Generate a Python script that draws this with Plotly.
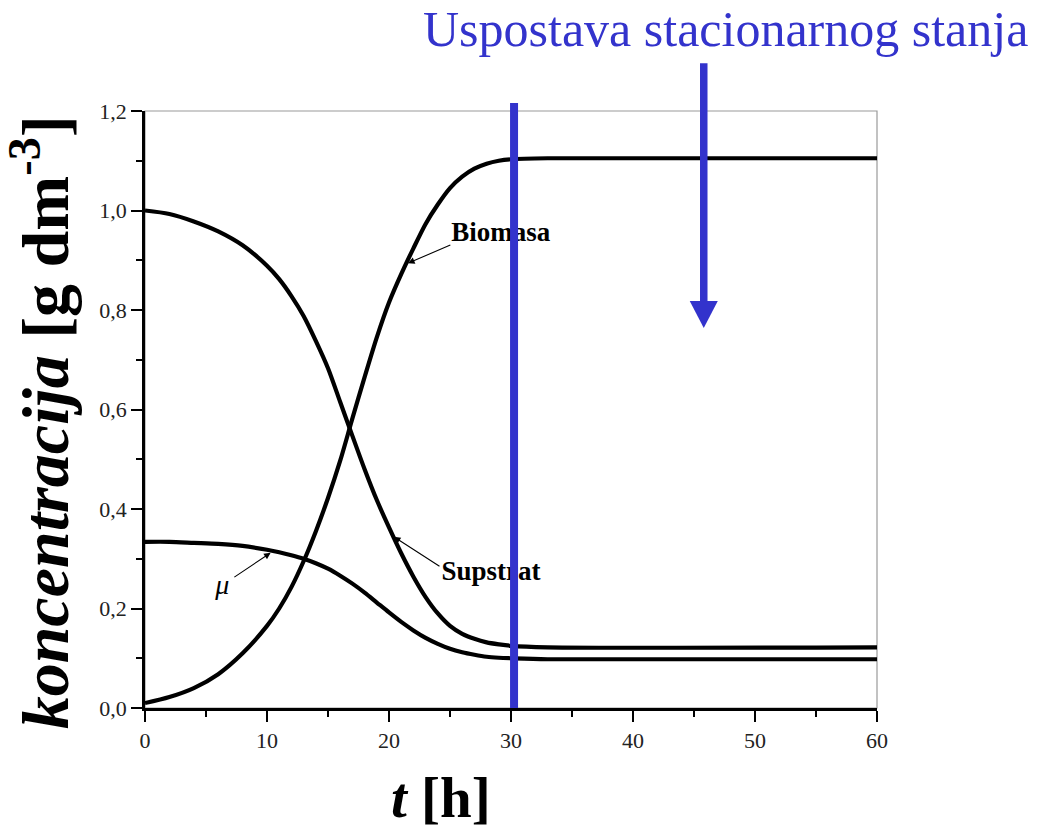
import plotly.graph_objects as go

# Time axis [h] and the three simulated profiles
t = [0, 2, 4, 6, 8, 10, 11, 12, 13, 14, 15, 16, 17, 18, 19, 20, 21, 22, 23, 24,
     25, 26, 27, 28, 29, 30, 33, 60]
biomasa = [0.010, 0.022, 0.040, 0.068, 0.110, 0.165, 0.200, 0.243, 0.295, 0.355,
           0.422, 0.497, 0.582, 0.665, 0.745, 0.815, 0.872, 0.924, 0.973, 1.012,
           1.045, 1.068, 1.084, 1.094, 1.100, 1.103, 1.105, 1.105]
supstrat = [1.000, 0.993, 0.978, 0.958, 0.930, 0.889, 0.862, 0.828, 0.788, 0.738,
            0.683, 0.615, 0.547, 0.480, 0.418, 0.363, 0.311, 0.264, 0.223, 0.190,
            0.165, 0.149, 0.139, 0.132, 0.128, 0.125, 0.122, 0.122]
mi = [0.334, 0.334, 0.332, 0.330, 0.326, 0.318, 0.313, 0.307, 0.300, 0.291,
      0.280, 0.266, 0.250, 0.232, 0.212, 0.192, 0.173, 0.156, 0.141, 0.129,
      0.119, 0.112, 0.107, 0.103, 0.101, 0.100, 0.098, 0.098]

x_ticks = [0, 10, 20, 30, 40, 50, 60]
y_ticks = [0.0, 0.2, 0.4, 0.6, 0.8, 1.0, 1.2]
X_RANGE = [0, 60]
Y_RANGE = [0, 1.2]

# Curve labels: (text, font size, label anchor x, y, arrow tip x, y, arrow tail x, y)
labels = [
    ("<b>Biomasa</b>", 27, 25.10, 0.953, 21.56, 0.894, 25.15, 0.932),
    ("<b>Supstrat</b>", 27, 24.30, 0.271, 20.40, 0.344, 24.26, 0.283),
    ("<i>μ</i>", 28, 5.75, 0.243, 10.30, 0.312, 7.20, 0.261),
]

# Steady-state marker and pointer
steady_t = 30.25
steady_top = 1.216
pointer_t = 45.8
pointer_top = 1.296
pointer_tip = 0.764
head_len = 0.054
head_half_w = 1.15

BLUE = "#3333cc"
SERIF = "Liberation Serif, Times New Roman, serif"


def to_paper(v):
    return (v - Y_RANGE[0]) / (Y_RANGE[1] - Y_RANGE[0])


fig = go.Figure()

for ys, name in [(biomasa, "Biomasa"), (supstrat, "Supstrat"), (mi, "μ")]:
    fig.add_trace(go.Scatter(x=t, y=ys, mode="lines", name=name,
                             line=dict(color="black", width=4.2, shape="spline",
                                       smoothing=0.8),
                             showlegend=False, hoverinfo="skip"))

# Curve names as text marks (kept under the blue marker line)
for text, size, lx, ly, *_ in labels:
    fig.add_trace(go.Scatter(
        x=[lx], y=[ly], text=[text], mode="text", textposition="middle right",
        textfont=dict(family=SERIF, size=size, color="black"),
        showlegend=False, hoverinfo="skip", cliponaxis=False))

annotations = []
for text, size, lx, ly, tx, ty, ax, ay in labels:
    annotations.append(dict(
        x=tx, y=ty, ax=ax, ay=ay, xref="x", yref="y", axref="x", ayref="y",
        text="", showarrow=True, arrowhead=2, arrowsize=1.2, arrowwidth=1.1,
        arrowcolor="black"))

# Axis titles and heading
annotations.append(dict(
    text="<b><i>koncentracija</i> [g dm<sup>-3</sup>]</b>",
    xref="paper", yref="paper", x=-0.143, y=0.479, textangle=-90,
    xanchor="center", yanchor="middle", showarrow=False,
    font=dict(family=SERIF, size=66, color="black")))
annotations.append(dict(
    text="<b><i>t</i> [h]</b>", xref="paper", yref="paper", x=0.404, y=-0.150,
    xanchor="center", yanchor="middle", showarrow=False,
    font=dict(family=SERIF, size=57, color="black")))
annotations.append(dict(
    text="Uspostava stacionarnog stanja", xref="paper", yref="paper",
    x=(725 - 145) / 732, y=1.137, xanchor="center", yanchor="middle",
    showarrow=False, font=dict(family=SERIF, size=50, color=BLUE)))

shapes = [
    # thin grey frame on top/right
    dict(type="rect", xref="paper", yref="paper", x0=0, y0=0, x1=1, y1=1,
         line=dict(color="#9a9a9a", width=1.2), layer="below"),
    # steady-state vertical line
    dict(type="line", xref="x", yref="paper", x0=steady_t, x1=steady_t,
         y0=0, y1=to_paper(steady_top), line=dict(color=BLUE, width=8),
         layer="above"),
    # pointer shaft
    dict(type="line", xref="x", yref="paper", x0=pointer_t, x1=pointer_t,
         y0=to_paper(pointer_top), y1=to_paper(pointer_tip + head_len * 0.8),
         line=dict(color=BLUE, width=7.5), layer="above"),
    # pointer head
    dict(type="path", xref="x", yref="paper",
         path=(f"M {pointer_t - head_half_w} {to_paper(pointer_tip + head_len)} "
               f"L {pointer_t + head_half_w} {to_paper(pointer_tip + head_len)} "
               f"L {pointer_t} {to_paper(pointer_tip)} Z"),
         fillcolor=BLUE, line=dict(color=BLUE, width=0), layer="above"),
]

axis_common = dict(
    showgrid=False, zeroline=False, showline=True, linecolor="black",
    linewidth=2.6, ticks="outside", tickcolor="black", tickwidth=2,
    ticklen=11, tickfont=dict(family=SERIF, size=22, color="#222222"),
)

fig.update_layout(
    width=1040, height=830,
    margin=dict(l=145, r=163, t=111, b=122),
    paper_bgcolor="white", plot_bgcolor="white",
    xaxis=dict(range=X_RANGE, tickvals=x_ticks, ticktext=[str(v) for v in x_ticks],
               minor=dict(dtick=5, ticks="outside", ticklen=6, tickwidth=2,
                          tickcolor="black"),
               **axis_common),
    yaxis=dict(range=Y_RANGE, tickvals=y_ticks,
               ticktext=[f"{v:.1f}".replace(".", ",") for v in y_ticks],
               minor=dict(dtick=0.1, ticks="outside", ticklen=6, tickwidth=2,
                          tickcolor="black"),
               **axis_common),
    annotations=annotations,
    shapes=shapes,
)

fig.write_html("out.html")
